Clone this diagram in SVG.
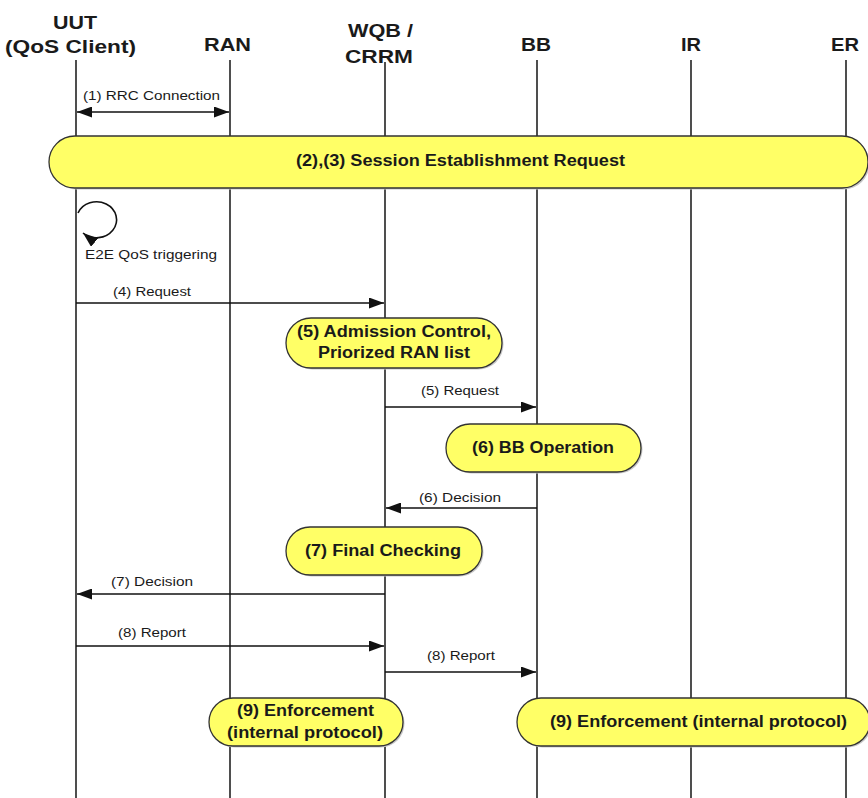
<svg xmlns="http://www.w3.org/2000/svg" width="868" height="798" viewBox="0 0 868 798">
<style>
.hdr{font-family:"Liberation Sans",Arial,sans-serif;font-size:18px;font-weight:bold;fill:#1a1a1a}
.lbl{font-family:"Liberation Sans",Arial,sans-serif;font-size:13px;fill:#1a1a1a}
.pt{font-family:"Liberation Sans",Arial,sans-serif;font-size:16px;font-weight:bold;fill:#1a1a1a}
.life{stroke:#222;stroke-width:1.6;fill:none}
.msg{stroke:#111;stroke-width:1.6;fill:none}
.pill{fill:#ffff66;stroke:#333;stroke-width:1.3}
.shadow{fill:#c8c8c8;stroke:none}
</style>
<defs>
<marker id="ah" markerUnits="userSpaceOnUse" markerWidth="15" markerHeight="11" viewBox="0 0 15 11" refX="15" refY="5.5" orient="auto-start-reverse">
<path d="M0,0 L15,5.5 L0,11 z" fill="#111"/>
</marker>
</defs>
<rect width="868" height="798" fill="#ffffff"/>

<g id="lifelines">
<line class="life" x1="76" y1="60" x2="76" y2="798"/>
<line class="life" x1="230" y1="60" x2="230" y2="798"/>
<line class="life" x1="385" y1="62" x2="385" y2="798"/>
<line class="life" x1="537" y1="60" x2="537" y2="798"/>
<line class="life" x1="691" y1="60" x2="691" y2="798"/>
<line class="life" x1="846" y1="60" x2="846" y2="798"/>
</g>

<g id="uut"><text class="hdr" x="53" y="29" textLength="44" lengthAdjust="spacingAndGlyphs">UUT</text><text class="hdr" x="5" y="53" textLength="131" lengthAdjust="spacingAndGlyphs">(QoS Client)</text></g>
<g id="ran"><text class="hdr" x="204" y="51" textLength="47" lengthAdjust="spacingAndGlyphs">RAN</text></g>
<g id="wqb"><text class="hdr" x="348" y="37" textLength="65" lengthAdjust="spacingAndGlyphs">WQB /</text><text class="hdr" x="345" y="63" textLength="68" lengthAdjust="spacingAndGlyphs">CRRM</text></g>
<g id="bb"><text class="hdr" x="521" y="51" textLength="30" lengthAdjust="spacingAndGlyphs">BB</text></g>
<g id="ir"><text class="hdr" x="681" y="51" textLength="20" lengthAdjust="spacingAndGlyphs">IR</text></g>
<g id="er"><text class="hdr" x="831" y="51" textLength="28" lengthAdjust="spacingAndGlyphs">ER</text></g>

<g id="connectors">
<line class="msg" x1="77" y1="112" x2="229" y2="112" marker-start="url(#ah)" marker-end="url(#ah)"/>
<text class="lbl" x="83" y="100" textLength="137" lengthAdjust="spacingAndGlyphs">(1) RRC Connection</text>
<path class="msg" d="M78,213 A20,18 0 1 1 83,233" marker-end="url(#ah)"/>
<text class="lbl" x="85" y="259" textLength="132" lengthAdjust="spacingAndGlyphs">E2E QoS triggering</text>
<line class="msg" x1="76" y1="303" x2="384" y2="303" marker-end="url(#ah)"/>
<text class="lbl" x="113" y="296" textLength="78" lengthAdjust="spacingAndGlyphs">(4) Request</text>
<line class="msg" x1="385" y1="407" x2="536" y2="407" marker-end="url(#ah)"/>
<text class="lbl" x="421" y="395" textLength="78" lengthAdjust="spacingAndGlyphs">(5) Request</text>
<line class="msg" x1="537" y1="508" x2="386" y2="508" marker-end="url(#ah)"/>
<text class="lbl" x="419" y="502" textLength="82" lengthAdjust="spacingAndGlyphs">(6) Decision</text>
<line class="msg" x1="385" y1="594" x2="77" y2="594" marker-end="url(#ah)"/>
<text class="lbl" x="111" y="586" textLength="82" lengthAdjust="spacingAndGlyphs">(7) Decision</text>
<line class="msg" x1="76" y1="646" x2="384" y2="646" marker-end="url(#ah)"/>
<text class="lbl" x="118" y="637" textLength="68" lengthAdjust="spacingAndGlyphs">(8) Report</text>
<line class="msg" x1="385" y1="672" x2="536" y2="672" marker-end="url(#ah)"/>
<text class="lbl" x="427" y="660" textLength="68" lengthAdjust="spacingAndGlyphs">(8) Report</text>
</g>

<g id="session">
<rect class="shadow" x="50.5" y="137.5" width="819" height="52" rx="26"/>
<rect class="pill" x="49" y="136" width="819" height="52" rx="26"/>
<text class="pt" x="296" y="166" font-size="17" textLength="329" lengthAdjust="spacingAndGlyphs">(2),(3) Session Establishment Request</text>
</g>

<g id="admission">
<rect class="shadow" x="287.5" y="319.5" width="216" height="50" rx="25"/>
<rect class="pill" x="286" y="318" width="216" height="50" rx="25"/>
<text class="pt" x="297" y="337" textLength="194" lengthAdjust="spacingAndGlyphs">(5) Admission Control,</text>
<text class="pt" x="318" y="358" textLength="152" lengthAdjust="spacingAndGlyphs">Priorized RAN list</text>
</g>

<g id="bbop">
<rect class="shadow" x="447.5" y="425.5" width="195" height="48" rx="24"/>
<rect class="pill" x="446" y="424" width="195" height="48" rx="24"/>
<text class="pt" x="472" y="453" textLength="142" lengthAdjust="spacingAndGlyphs">(6) BB Operation</text>
</g>

<g id="final">
<rect class="shadow" x="287.5" y="528.5" width="196" height="48" rx="24"/>
<rect class="pill" x="286" y="527" width="196" height="48" rx="24"/>
<text class="pt" x="305" y="556" textLength="156" lengthAdjust="spacingAndGlyphs">(7) Final Checking</text>
</g>

<g id="enf1">
<rect class="shadow" x="210.5" y="699.5" width="194" height="48" rx="24"/>
<rect class="pill" x="209" y="698" width="194" height="48" rx="24"/>
<text class="pt" x="237" y="716" font-size="15.5" textLength="137" lengthAdjust="spacingAndGlyphs">(9) Enforcement</text>
<text class="pt" x="227" y="738" font-size="15.5" textLength="156" lengthAdjust="spacingAndGlyphs">(internal protocol)</text>
</g>

<g id="enf2">
<rect class="shadow" x="518.5" y="699.5" width="353" height="48" rx="24"/>
<rect class="pill" x="517" y="698" width="353" height="48" rx="24"/>
<text class="pt" x="550" y="727" font-size="15.5" textLength="297" lengthAdjust="spacingAndGlyphs">(9) Enforcement (internal protocol)</text>
</g>
</svg>
